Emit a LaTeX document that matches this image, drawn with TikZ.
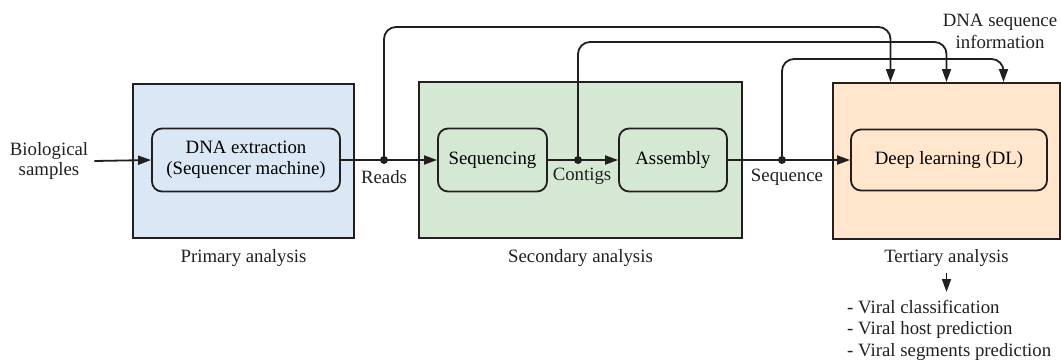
\documentclass[tikz,border=0pt]{standalone}
\usepackage{fontspec}
\setmainfont{Liberation Serif}
\usetikzlibrary{arrows.meta,positioning,calc}
\definecolor{ink}{RGB}{35,31,32}
\definecolor{blueF}{RGB}{218,232,246}
\definecolor{greenF}{RGB}{213,232,212}
\definecolor{peachF}{RGB}{255,230,204}
\tikzset{
  stage/.style={draw=ink, line width=2pt, inner sep=0pt},
  task/.style={draw=ink, line width=1.8pt, rounded corners=10pt, align=center, inner sep=0pt, minimum height=63pt},
  wire/.style={draw=ink, line width=1.8pt},
  arr/.style={wire, -{Triangle[length=13pt,width=9pt]}},
  lbl/.style={inner sep=0pt, align=center, text=ink},
  dot/.style={circle, fill=ink, inner sep=0pt, minimum size=8pt}
}

\begin{document}
\begin{tikzpicture}[x=1pt, y=-1pt, font=\fontsize{18.8}{20.5}\selectfont]
  \useasboundingbox (0,0) rectangle (1061,360);
  % the three analysis stages
  \node[stage, fill=blueF, minimum width=221pt, minimum height=154pt] (prim) at (243.5,161) {};
  \node[stage, fill=greenF, minimum width=323pt, minimum height=156pt] (sec) at (580.5,160) {};
  \node[stage, fill=peachF, minimum width=227pt, minimum height=156pt] (tert) at (946.5,161) {};
  \node[lbl, below=10pt of prim] (plab) {Primary analysis};
  \node[lbl, below=10pt of sec] (slab) {Secondary analysis};
  \node[lbl, below=9pt of tert] (tlab) {Tertiary analysis};

  % processing steps
  \node[task, minimum width=188pt] (ext) at (246,160) {DNA extraction\\(Sequencer machine)};
  \node[task, minimum width=109pt] (seqn) at (492.5,160) {Sequencing};
  \node[task, minimum width=108pt] (asm) at (673,160) {Assembly};
  \node[task, minimum width=196pt, minimum height=61pt] (dl) at (949,160) {Deep learning (DL)};

  % branch points on the main line
  \node[dot] (rd) at (384,160) {};
  \node[dot] (ct) at (578,160) {};
  \node[dot] (sq) at (782,160) {};
  \node[lbl, below=6pt of rd] (rdl) {Reads};
  \node[lbl, below=4pt of ct, xshift=4pt] (ctl) {Contigs};
  \node[lbl, below=5pt of sq, xshift=5pt] (sql) {Sequence};

  \node[lbl, font=\fontsize{18.8}{19.5}\selectfont] (bio) at (49,161) {Biological\\samples};
  \node[lbl, anchor=north, font=\fontsize{18.8}{22}\selectfont] (info) at (1000,14) {DNA sequence\\information};
  \node[lbl, anchor=north west, align=left, font=\fontsize{18.8}{21.5}\selectfont] (list) at (847,300)
    {- Viral classification\\- Viral host prediction\\- Viral segments prediction};

  % entry points on top of the tertiary stage
  \coordinate (in1) at ([xshift=-56pt]tert.north);
  \coordinate (in2) at (tert.north);
  \coordinate (in3) at ([xshift=57pt]tert.north);

  % main flow
  \draw[arr] ([xshift=6pt]bio.east) -- (ext.west);
  \draw[wire] (ext.east) -- (rd.center);
  \draw[arr] (rd.center) -- (seqn.west);
  \draw[wire] (seqn.east) -- (ct.center);
  \draw[arr] (ct.center) -- (asm.west);
  \draw[wire] (asm.east) -- (sq.center);
  \draw[arr] (sq.center) -- (dl.west);

  % sequence information fed to DL
  \draw[arr, rounded corners=12pt] (rd.center) |- ($(in1)+(0,-55)$) -- (in1);
  \draw[arr, rounded corners=12pt] (ct.center) |- ($(in2)+(0,-40)$) -- (in2);
  \draw[arr, rounded corners=12pt] (sq.center) |- ($(in3)+(0,-23)$) -- (in3);

  \draw[arr] ([yshift=-6pt]tlab.south) -- ([yshift=8pt]list.north -| tlab.south);
\end{tikzpicture}
\end{document}
